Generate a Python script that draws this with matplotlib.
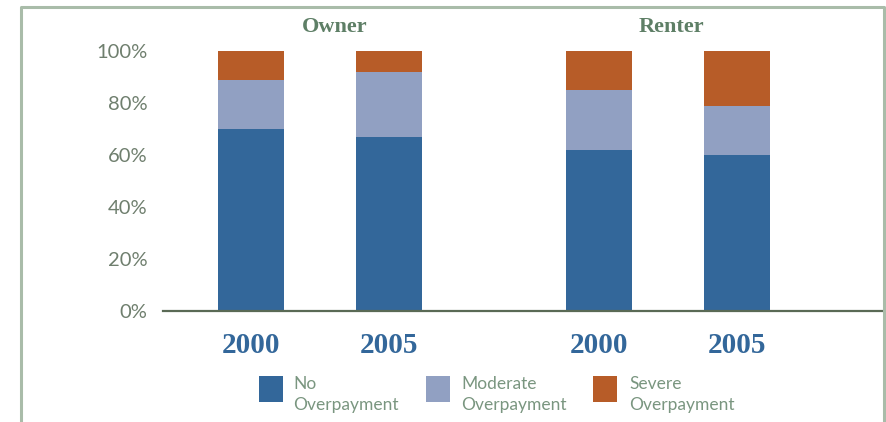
"""Housing cost burden by tenure: stacked shares for 2000 and 2005."""
import matplotlib
matplotlib.use("Agg")
import matplotlib.pyplot as plt
from matplotlib.lines import Line2D
from matplotlib.patches import Rectangle

# data (% of households)
groups = ["Owner", "Renter"]
years = ["2000", "2005", "2000", "2005"]
no_over = [70, 67, 62, 60]
moderate = [19, 25, 23, 19]
severe = [11, 8, 15, 21]
series_names = ["No\nOverpayment", "Moderate\nOverpayment", "Severe\nOverpayment"]

BLUE = "#33679a"
LAVENDER = "#91a0c2"
RUST = "#b75c28"
colors = [BLUE, LAVENDER, RUST]
TICK_GRAY = "#6f7f6e"
GREEN_TXT = "#5e7f66"
LEG_TXT = "#7a9680"
FRAME = "#a9bca9"
AXIS_LINE = "#5a6a55"

W, H = 886, 422
fig = plt.figure(figsize=(W / 100, H / 100), dpi=100)


def fx(px):
    return px / W


def fy(py):
    return 1 - py / H


ax = fig.add_axes([fx(163), fy(311), fx(883) - fx(163), fy(38.5) - fy(311)])

pos = [0, 1, 2.531, 3.535]
width = 0.48
bottom = [0] * 4
for vals, c in zip([no_over, moderate, severe], colors):
    ax.bar(pos, vals, width, bottom=bottom, color=c, edgecolor="none")
    bottom = [b + v for b, v in zip(bottom, vals)]

ax.set_xlim(-0.64, 4.596)
ax.set_ylim(0, 105)
ax.set_yticks(range(0, 101, 20))
ax.set_yticklabels([f"{v}%" for v in range(0, 101, 20)],
                   family="Lato", fontsize=14.5, color=TICK_GRAY)
ax.set_xticks(pos)
ax.set_xticklabels(years, family="Liberation Serif", fontweight="bold",
                   fontsize=21, color=BLUE)
ax.tick_params(axis="y", length=0, pad=11)
ax.tick_params(axis="x", length=0, pad=15)
for s in ("left", "right", "top"):
    ax.spines[s].set_visible(False)
ax.spines["bottom"].set_color(AXIS_LINE)
ax.spines["bottom"].set_linewidth(1.6)

# group headers
for name, px in zip(groups, [335, 671]):
    fig.text(fx(px), fy(27), name, ha="center", va="center",
             family="Liberation Serif", fontweight="bold", fontsize=16,
             color=GREEN_TXT)

# legend
for name, c, sq_x, tx in zip(series_names, colors, [259, 426, 593], [293, 461, 629]):
    fig.add_artist(Rectangle((fx(sq_x), fy(402)), fx(24), fy(376) - fy(402),
                             transform=fig.transFigure, color=c, lw=0))
    fig.text(fx(tx), fy(376), name, ha="left", va="top", family="Lato",
             fontsize=12.5, color=LEG_TXT, linespacing=1.4)

# frame around the figure (open at the bottom)
lw = 2.2
fig.add_artist(Line2D([fx(20.5), fx(20.5), fx(884), fx(884)],
                      [fy(H + 5), fy(7), fy(7), fy(H + 5)],
                      transform=fig.transFigure, color=FRAME, lw=lw))

fig.savefig("out.png", dpi=100)
